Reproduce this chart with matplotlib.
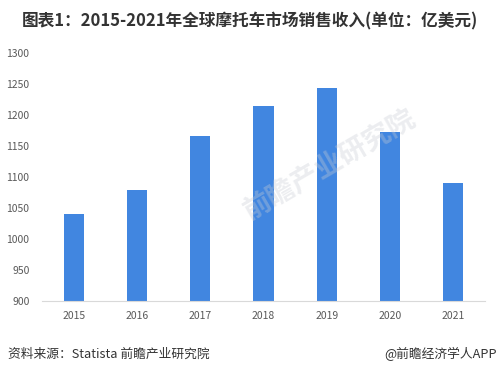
import matplotlib
matplotlib.use('Agg')
import matplotlib.pyplot as plt

plt.rcParams['font.family'] = ['Noto Sans CJK SC', 'DejaVu Sans']

years = ['2015', '2016', '2017', '2018', '2019', '2020', '2021']
revenue = [1040, 1079, 1166, 1214, 1243, 1172, 1090]
y_ticks = [900, 950, 1000, 1050, 1100, 1150, 1200, 1250, 1300]

W, H = 499, 374
fig = plt.figure(figsize=(W / 100, H / 100), dpi=100)
ax = fig.add_axes([42 / W, 1 - 301 / H, (485 - 42) / W, (301 - 53) / H])

ax.bar(range(len(years)), revenue, width=0.32, color='#4186e0', zorder=2)
ax.set_xlim(-0.5, len(years) - 0.5)
ax.set_ylim(900, 1300)
ax.set_yticks(y_ticks)
ax.set_xticks(range(len(years)))
ax.set_xticklabels(years)
ax.tick_params(axis='both', length=0, labelsize=7.5, colors='#595959')
ax.tick_params(axis='y', pad=9)
ax.tick_params(axis='x', pad=7)
for side in ['top', 'right', 'left']:
    ax.spines[side].set_visible(False)
ax.spines['bottom'].set_color('#d9d9d9')

# faint watermark
fig.text(0.66, 0.56, '前瞻产业研究院', fontsize=20, color='#c8ccd4', alpha=0.35,
         rotation=30, ha='center', va='center', fontweight='bold')

fig.text(0.5, 1 - 21 / H, '图表1：2015-2021年全球摩托车市场销售收入(单位：亿美元)',
         ha='center', va='center', fontsize=12, fontweight='bold', color='#333333')
fig.text(8 / W, 1 - 354 / H, '资料来源：Statista 前瞻产业研究院', ha='left', va='center',
         fontsize=9.2, color='#333333')
fig.text(497 / W, 1 - 354 / H, '@前瞻经济学人APP', ha='right', va='center',
         fontsize=9.2, color='#333333')

fig.savefig('out.png', dpi=100)
